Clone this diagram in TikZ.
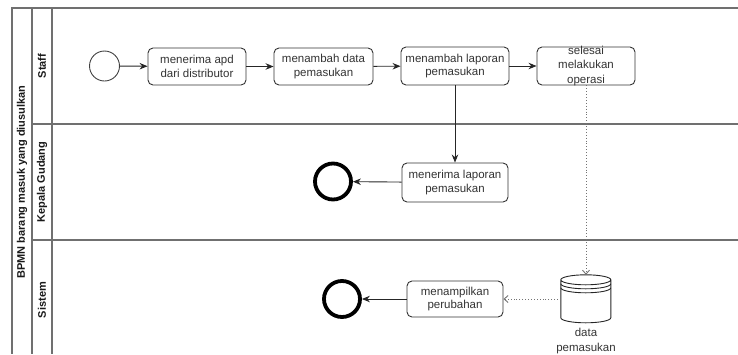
\documentclass[tikz,border=0pt]{standalone}
\usepackage{fontspec}
\setmainfont{Liberation Sans}
\usetikzlibrary{arrows.meta}
\definecolor{txt}{HTML}{333333}
\definecolor{lanec}{HTML}{707070}
\tikzset{
  task/.style={draw=black!80, line width=0.9pt, rounded corners=5pt, fill=white,
    align=center, inner sep=0pt, text=txt, font=\fontsize{11.5}{13.5}\selectfont},
  flow/.style={draw=black!85, line width=0.9pt, -{Stealth[length=8pt,width=6.5pt]}},
  assoc/.style={draw=black!55, line width=0.9pt, dotted, -{Straight Barb[length=4pt,width=7pt]}},
  lane/.style={draw=lanec, line width=1.2pt},
  lanelbl/.style={rotate=90, font=\bfseries\fontsize{11}{13}\selectfont, text=black!90},
  startev/.style={circle, draw=black!75, line width=0.9pt, minimum size=30pt, inner sep=0pt},
  endev/.style={circle, draw=black, line width=3.8pt, minimum size=36pt, inner sep=0pt},
}
\begin{document}
\begin{tikzpicture}[x=1pt,y=-1pt]
\useasboundingbox (0,0) rectangle (738,354);
% pool and lanes
\draw[lane] (738,8) -- (12,8) -- (12,354);
\draw[lane] (32,8) -- (32,354);
\draw[lane] (52,8) -- (52,354);
\draw[lane] (32,124) -- (738,124);
\draw[lane] (32,240) -- (738,240);
\node[lanelbl] (pool) at (22,182) {BPMN barang masuk yang diusulkan};
\node[lanelbl] (lstaff) at (42,66) {Staff};
\node[lanelbl] (lkep) at (42,182) {Kepala Gudang};
\node[lanelbl] (lsis) at (42,300) {Sistem};
% nodes
\node[startev] (start) at (104.5,66) {};
\node[task, minimum width=98pt, minimum height=37pt] (b1) at (197,66.5) {menerima apd\\dari distributor};
\node[task, minimum width=99pt, minimum height=37pt] (b2) at (323.5,66.5) {menambah data\\pemasukan};
\node[task, minimum width=108pt, minimum height=38pt] (b3) at (455,66) {menambah laporan\\pemasukan};
\node[task, minimum width=98pt, minimum height=38pt, fill=none] (b4) at (586,66) {};
\node[text=txt, align=center, font=\fontsize{11.5}{14.3}\selectfont] (b4t) at (586,66) {selesai\\melakukan\\operasi};
\node[task, minimum width=106pt, minimum height=39pt] (b5) at (455,182.5) {menerima laporan\\pemasukan};
\node[endev] (e1) at (333,181.5) {};
\node[task, minimum width=96pt, minimum height=36pt] (b6) at (455,299) {menampilkan\\perubahan};
\node[endev] (e2) at (342,299) {};
% data store
\node[minimum width=50pt, minimum height=48pt, inner sep=0pt] (db) at (586,299) {};
\draw[black!85, line width=0.9pt]
  (db.north west) ++(0,5) -- ++(0,38) arc[start angle=180, end angle=360, x radius=25, y radius=-5]
  -- ++(0,-38) arc[start angle=0, end angle=180, x radius=25, y radius=-5]
  arc[start angle=180, end angle=360, x radius=25, y radius=-5];
\draw[black!85, line width=0.9pt]
  (db.north west) ++(0,9) arc[start angle=180, end angle=360, x radius=25, y radius=-5];
\draw[black!85, line width=0.9pt]
  (db.north west) ++(0,13) arc[start angle=180, end angle=360, x radius=25, y radius=-5];
\node[text=txt, align=center, font=\fontsize{11.5}{14.5}\selectfont, anchor=north] (dbl) at (586,325) {data\\pemasukan};
% flows
\draw[flow] (start) -- (b1);
\draw[flow] (b1) -- (b2);
\draw[flow] (b2) -- (b3);
\draw[flow] (b3) -- (b4);
\draw[flow] (b3) -- (b5);
\draw[flow] (b5) -- (e1);
\draw[flow] (b6) -- (e2);
\draw[assoc] (b4.south) -- (db.north);
\draw[assoc] (db.west) -- (b6.east);
\end{tikzpicture}
\end{document}
